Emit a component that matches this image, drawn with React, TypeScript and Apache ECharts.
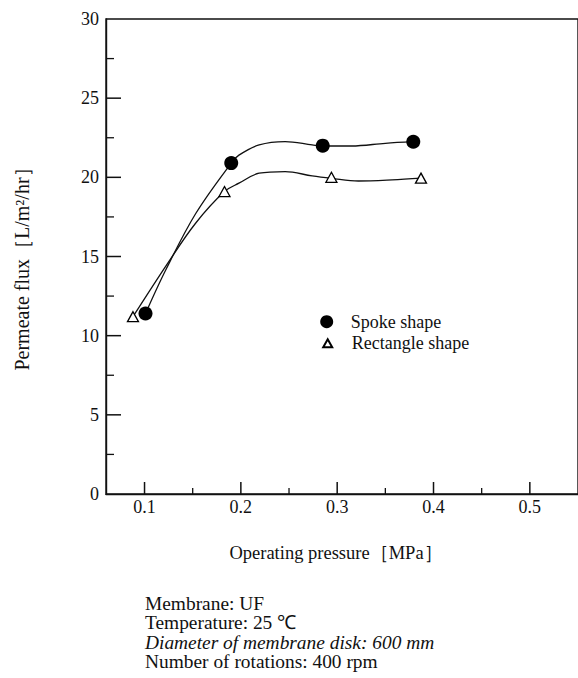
import React, { useEffect, useRef } from "react";
import * as echarts from "echarts";

// Measured points
const spokePressure = [0.101, 0.19, 0.285, 0.379];
const spokeFlux = [11.4, 20.9, 22.0, 22.25];
const rectPressure = [0.088, 0.183, 0.294, 0.387];
const rectFlux = [11.2, 19.1, 20.0, 19.95];

// Fitted curves
const spokeCurvePressure = [0.101, 0.122, 0.153, 0.19, 0.198, 0.219, 0.246, 0.274, 0.285, 0.315, 0.35, 0.379];
const spokeCurveFlux = [11.4, 14.15, 17.7, 20.9, 21.4, 22.05, 22.26, 22.05, 21.98, 21.98, 22.15, 22.25];
const rectCurvePressure = [0.088, 0.124, 0.153, 0.183, 0.198, 0.219, 0.246, 0.274, 0.294, 0.322, 0.357, 0.387];
const rectCurveFlux = [11.2, 14.57, 17.1, 19.1, 19.63, 20.26, 20.36, 20.09, 19.94, 19.77, 19.84, 19.95];

const xMajorTicks = [0.1, 0.2, 0.3, 0.4, 0.5];
const xMinorTicks = [0.15, 0.25, 0.35, 0.45];
const yMajorTicks = [5, 10, 15, 20, 25];
const yMinorTicks = [2.5, 7.5, 12.5, 17.5, 22.5, 27.5];

const seriesNames = ["Spoke shape", "Rectangle shape"];
const xTitle = "Operating pressure［MPa］";
const yTitle = "Permeate flux［L/m²/hr］";
const notes = [
  "Membrane: UF",
  "Temperature: 25 ℃",
  "Diameter of membrane disk: 600 mm",
  "Number of rotations: 400 rpm",
];

const FONT = "Liberation Serif";
const INK = "#111";

function zip(xs: number[], ys: number[]) {
  return xs.map((x, i) => [x, ys[i]]);
}

export default function App() {
  const ref = useRef<HTMLDivElement>(null);
  useEffect(() => {
    if (!ref.current) return;
    const chart = echarts.init(ref.current, undefined, { renderer: "svg" });
    const xMin = 0.06;
    const option: any = {
      animation: false,
      backgroundColor: "#fff",
      textStyle: { fontFamily: FONT, color: INK },
      grid: {
        left: 106,
        top: 19,
        width: 474,
        height: 475,
        show: true,
        borderColor: INK,
        borderWidth: 1.4,
        backgroundColor: "transparent",
      },
      xAxis: {
        type: "value",
        min: xMin,
        max: 0.55,
        position: "bottom",
        splitLine: { show: false },
        axisLine: { show: true, lineStyle: { color: INK, width: 1.4 } },
        axisTick: { show: false },
        axisLabel: {
          customValues: xMajorTicks,
          fontFamily: FONT,
          fontSize: 18,
          color: INK,
          margin: 4,
          formatter: (v: number) => v.toFixed(1),
        },
      },
      yAxis: {
        type: "value",
        min: 0,
        max: 30,
        interval: 5,
        splitLine: { show: false },
        axisLine: { show: true, lineStyle: { color: INK, width: 1.4 } },
        axisTick: { show: false },
        axisLabel: { fontFamily: FONT, fontSize: 18, color: INK, margin: 7 },
      },
      legend: [
        {
          data: [seriesNames[0]],
          left: 320.2,
          top: 312.7,
          padding: 0,
          itemWidth: 13,
          itemHeight: 13,
          formatter: (n: string) => `{g|}${n}`,
          textStyle: { fontFamily: FONT, fontSize: 18, color: INK, rich: { g: { width: 12.5 } } },
          selectedMode: false,
        },
        {
          data: [seriesNames[1]],
          left: 322.2,
          top: 334.3,
          padding: 0,
          itemWidth: 9,
          itemHeight: 8,
          formatter: (n: string) => `{g|}${n}`,
          textStyle: { fontFamily: FONT, fontSize: 18, color: INK, rich: { g: { width: 14.5 } } },
          selectedMode: false,
        },
      ],
      series: [
        {
          name: "spokeCurve",
          type: "line",
          smooth: 0.35,
          showSymbol: false,
          symbol: "none",
          lineStyle: { color: INK, width: 1.3 },
          data: zip(spokeCurvePressure, spokeCurveFlux),
          z: 2,
        },
        {
          name: "rectCurve",
          type: "line",
          smooth: 0.35,
          showSymbol: false,
          symbol: "none",
          lineStyle: { color: INK, width: 1.3 },
          data: zip(rectCurvePressure, rectCurveFlux),
          z: 2,
        },
        {
          name: seriesNames[0],
          type: "scatter",
          symbol: "circle",
          symbolSize: 14,
          itemStyle: { color: "#000", opacity: 1 },
          data: zip(spokePressure, spokeFlux),
          z: 5,
        },
        {
          name: seriesNames[1],
          type: "scatter",
          symbol: "triangle",
          symbolSize: [11, 10],
          itemStyle: { color: "#fff", borderColor: "#000", borderWidth: 1.3, opacity: 1 },
          data: zip(rectPressure, rectFlux),
          z: 5,
        },
      ],
      graphic: [
        {
          type: "text",
          x: 336,
          y: 553,
          style: {
            text: xTitle,
            fontFamily: FONT,
            fontSize: 18.5,
            fill: INK,
            align: "center",
            verticalAlign: "middle",
          },
        },
        {
          type: "text",
          x: 22,
          y: 264,
          rotation: Math.PI / 2,
          style: {
            text: yTitle,
            fontFamily: FONT,
            fontSize: 20,
            fill: INK,
            align: "center",
            verticalAlign: "middle",
          },
        },
        ...notes.map((t, i) => ({
          type: "text",
          x: 145,
          y: 603 + i * 19.5,
          style: {
            text: t,
            fontFamily: FONT,
            fontStyle: i === 2 ? "italic" : "normal",
            fontSize: 19.4,
            fill: INK,
            align: "left",
            verticalAlign: "middle",
          },
        })),
      ],
    };
    chart.setOption(option);

    // Tick marks placed through the chart's own scales
    const tickEls: any[] = [];
    const xTick = (v: number, len: number, w: number) => {
      const p = chart.convertToPixel({ gridIndex: 0 }, [v, 0]) as number[];
      tickEls.push({
        type: "line",
        z: 10,
        shape: { x1: p[0], y1: p[1], x2: p[0], y2: p[1] - len },
        style: { stroke: INK, lineWidth: w },
      });
    };
    const yTick = (v: number, len: number, w: number) => {
      const p = chart.convertToPixel({ gridIndex: 0 }, [xMin, v]) as number[];
      tickEls.push({
        type: "line",
        z: 10,
        shape: { x1: p[0], y1: p[1], x2: p[0] + len, y2: p[1] },
        style: { stroke: INK, lineWidth: w },
      });
    };
    xMajorTicks.forEach((v) => xTick(v, 12, 1.5));
    xMinorTicks.forEach((v) => xTick(v, 6, 1.3));
    yMajorTicks.forEach((v) => yTick(v, 15, 1.5));
    yMinorTicks.forEach((v) => yTick(v, 8, 1.3));
    chart.setOption({ graphic: [...(option.graphic as any[]), ...tickEls] });

    return () => chart.dispose();
  }, []);
  return <div ref={ref} style={{ width: 578, height: 678, position: "absolute", left: 0, top: 0 }} />;
}
